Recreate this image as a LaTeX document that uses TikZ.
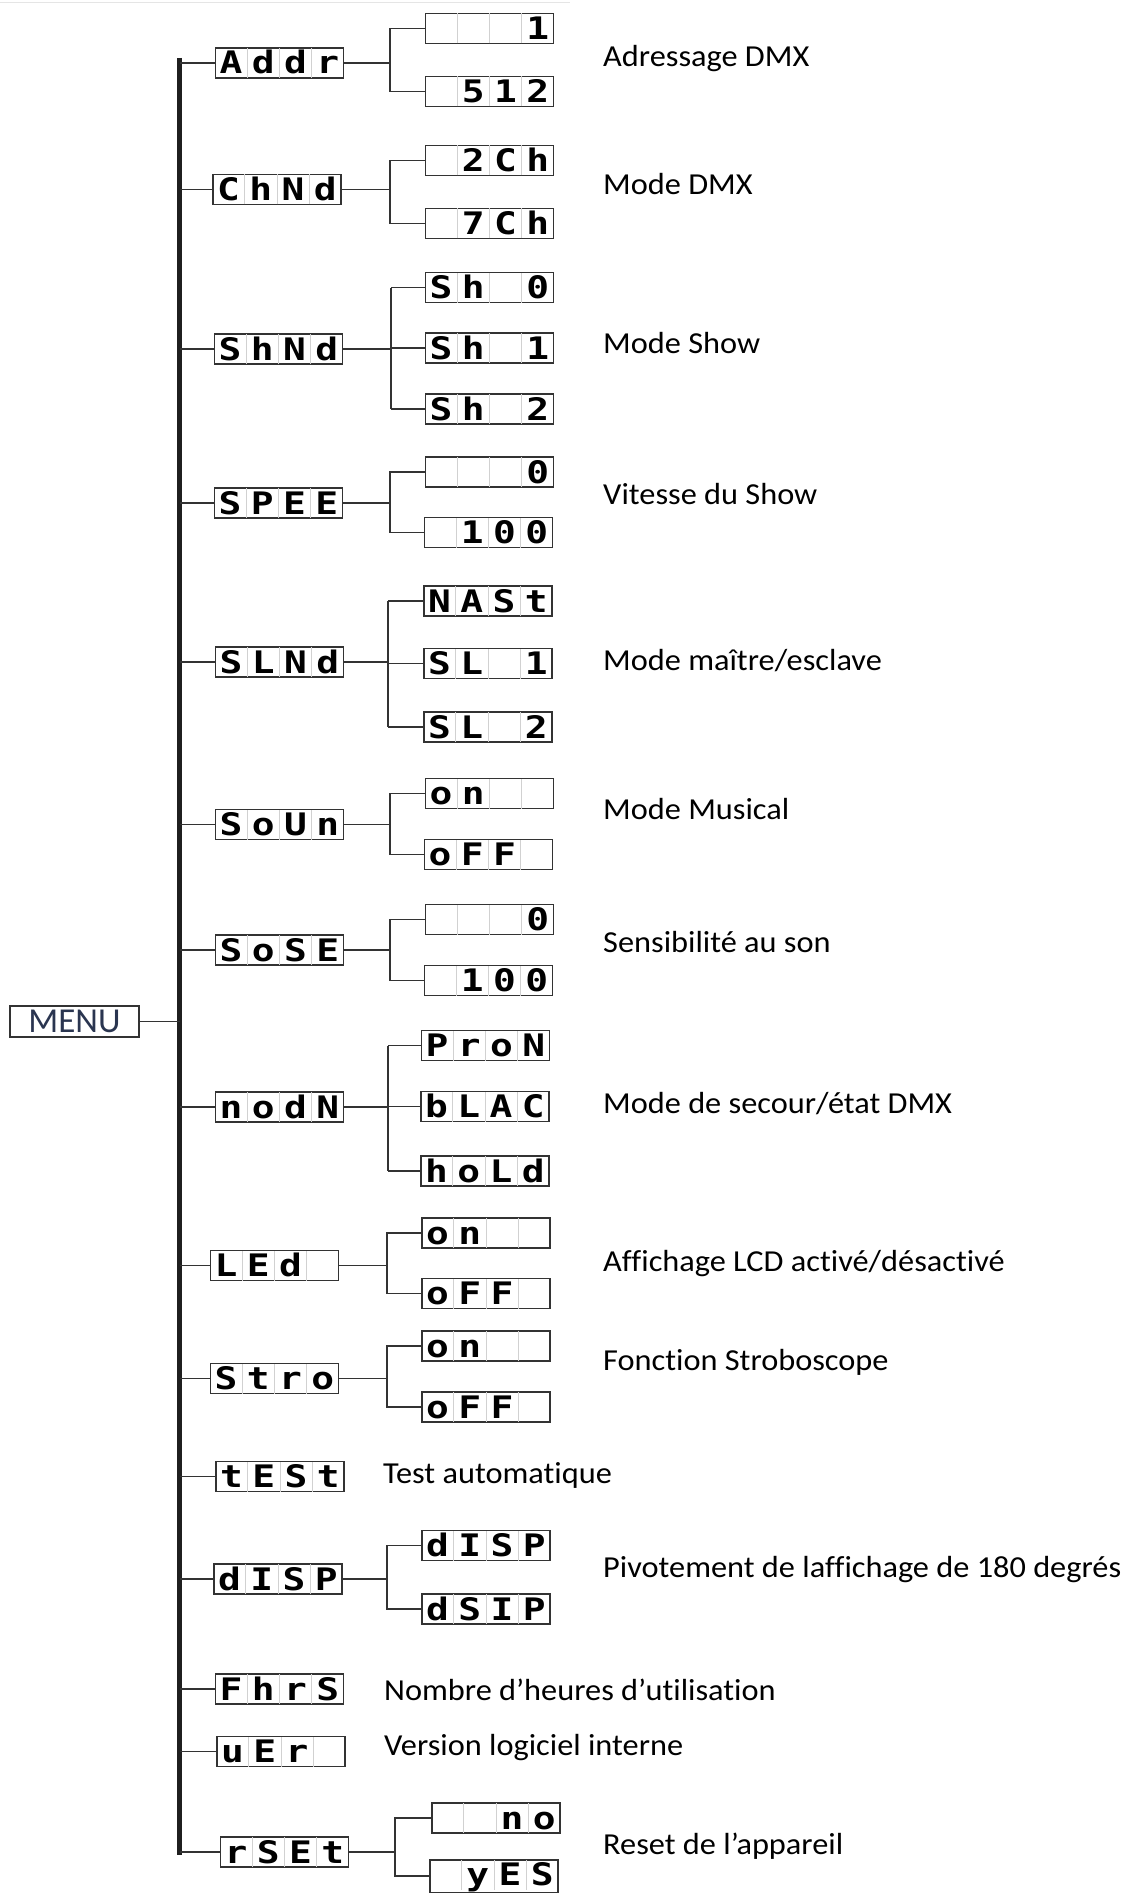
\documentclass[tikz,border=0pt]{standalone}
\usepackage{fontspec}
\setmainfont{Carlito}[Ligatures=NoCommon,FakeStretch=1.06]
\newfontfamily\menufont{Carlito}
\newfontfamily\lcdfont[FakeStretch=1.22]{DejaVu Sans Mono}
\newcommand\lcdcell[1]{\makebox[31.25pt]{\vrule width 0pt height 26pt depth 4pt #1}}
\newcommand\lcdsep{{\color{black!18}\vrule width 1pt height 26pt depth 4pt}}
\newcommand\lcdtext[4]{\lcdcell{#1}\lcdsep\lcdcell{#2}\lcdsep\lcdcell{#3}\lcdsep\lcdcell{#4}}
\definecolor{ln}{HTML}{333333}
\definecolor{menutxt}{HTML}{2A3550}
\begin{document}
\begin{tikzpicture}[x=1pt,y=-1pt,
  lcd/.style={draw=ln,line width=1.4pt,inner sep=0pt,outer sep=0pt,
    font=\lcdfont\bfseries\fontsize{31}{31}\selectfont},
  conn/.style={draw=ln,line width=1.4pt},
  lab/.style={anchor=base west,inner sep=0pt,font=\fontsize{30.5}{31}\selectfont}]
\useasboundingbox (0,0) rectangle (1122,1894);
\draw[black!10,line width=1pt] (0,3) -- (570,3);

% main bar
\coordinate (bartop) at (179.5,59);
\coordinate (barbot) at (179.5,1852);
\draw[draw=black!88,line width=5pt] (179.5,58) -- (179.5,1854.5);

% MENU
\node[draw=ln,line width=1.4pt,minimum width=129pt,minimum height=31pt,inner sep=0pt,
  text=menutxt,font=\menufont\fontsize{35}{35}\selectfont] (menu) at (74.5,1021.5) {MENU};
\draw[conn] (menu.east) -- (menu.east -| bartop);

% level 1
\node[lcd] (addr) at (279.5,63)    {\lcdtext{A}{d}{d}{r}};
\node[lcd] (chnd) at (277,189.5)   {\lcdtext{C}{h}{N}{d}};
\node[lcd] (shnd) at (278.5,349)   {\lcdtext{S}{h}{N}{d}};
\node[lcd] (spee) at (278.5,503)   {\lcdtext{S}{P}{E}{E}};
\node[lcd] (slnd) at (279.5,662)   {\lcdtext{S}{L}{N}{d}};
\node[lcd] (soun) at (279.5,824.5) {\lcdtext{S}{o}{U}{n}};
\node[lcd] (sose) at (279.5,950)   {\lcdtext{S}{o}{S}{E}};
\node[lcd] (nodn) at (279.5,1107)  {\lcdtext{n}{o}{d}{N}};
\node[lcd] (led)  at (274.5,1265.5){\lcdtext{L}{E}{d}{}};
\node[lcd] (stro) at (274.5,1378.5){\lcdtext{S}{t}{r}{o}};
\node[lcd] (test) at (280,1476.5)  {\lcdtext{t}{E}{S}{t}};
\node[lcd] (disp) at (278,1579)    {\lcdtext{d}{I}{S}{P}};
\node[lcd] (fhrs) at (279.5,1689)  {\lcdtext{F}{h}{r}{S}};
\node[lcd] (ver)  at (281,1751.5)  {\lcdtext{u}{E}{r}{}};
\node[lcd] (rset) at (284.5,1852)  {\lcdtext{r}{S}{E}{t}};

\foreach \n in {addr,chnd,shnd,spee,slnd,soun,sose,nodn,led,stro,test,disp,fhrs,ver}
  \draw[conn] (\n.west) -- (\n.west -| bartop);
\draw[conn] (rset.west) -- (rset.west -| barbot);

% level 2
\node[lcd] (a1) at (489.5,28.5)  {\lcdtext{}{}{}{1}};
\node[lcd] (a2) at (489.5,91.5)  {\lcdtext{}{5}{1}{2}};
\node[lcd] (c1) at (489.5,160.5) {\lcdtext{}{2}{C}{h}};
\node[lcd] (c2) at (489.5,223.5) {\lcdtext{}{7}{C}{h}};
\node[lcd] (s0) at (489.5,287.5) {\lcdtext{S}{h}{}{0}};
\node[lcd] (s1) at (489.5,348)   {\lcdtext{S}{h}{}{1}};
\node[lcd] (s2) at (489.5,409)   {\lcdtext{S}{h}{}{2}};
\node[lcd] (p1) at (489.5,472)   {\lcdtext{}{}{}{0}};
\node[lcd] (p2) at (488.5,532.5) {\lcdtext{}{1}{0}{0}};
\node[lcd] (m1) at (488,601)     {\lcdtext{N}{A}{S}{t}};
\node[lcd] (m2) at (488,663.5)   {\lcdtext{S}{L}{}{1}};
\node[lcd] (m3) at (488,727)     {\lcdtext{S}{L}{}{2}};
\node[lcd] (u1) at (489.5,793.5) {\lcdtext{o}{n}{}{}};
\node[lcd] (u2) at (488.5,854.5) {\lcdtext{o}{F}{F}{}};
\node[lcd] (e1) at (489.5,919.5) {\lcdtext{}{}{}{0}};
\node[lcd] (e2) at (488.5,980.5) {\lcdtext{}{1}{0}{0}};
\node[lcd] (n1) at (485.5,1045.5){\lcdtext{P}{r}{o}{N}};
\node[lcd] (n2) at (485,1106.5)  {\lcdtext{b}{L}{A}{C}};
\node[lcd] (n3) at (485,1171)    {\lcdtext{h}{o}{L}{d}};
\node[lcd] (l1) at (486,1233)    {\lcdtext{o}{n}{}{}};
\node[lcd] (l2) at (486,1293.5)  {\lcdtext{o}{F}{F}{}};
\node[lcd] (t1) at (486,1346)    {\lcdtext{o}{n}{}{}};
\node[lcd] (t2) at (486,1407)    {\lcdtext{o}{F}{F}{}};
\node[lcd] (d1) at (486,1545.5)  {\lcdtext{d}{I}{S}{P}};
\node[lcd] (d2) at (486,1609)    {\lcdtext{d}{S}{I}{P}};
\node[lcd] (r1) at (496,1818)    {\lcdtext{}{}{n}{o}};
\node[lcd] (r2) at (494,1876)    {\lcdtext{}{y}{E}{S}};

% branches
\foreach \p/\x/\a/\b in {addr/390/a1/a2, chnd/390/c1/c2, spee/390/p1/p2,
    soun/390/u1/u2, sose/390/e1/e2, led/387/l1/l2, stro/387/t1/t2,
    disp/387/d1/d2, rset/395/r1/r2}{
  \coordinate (br) at (\x,0);
  \draw[conn] (\p.east) -- (\p.east -| br);
  \draw[conn] (\a.west) -- (\a.west -| br) -- (\b.west -| br) -- (\b.west);
}
\foreach \p/\x/\a/\b/\c in {shnd/391/s0/s1/s2, slnd/388/m1/m2/m3, nodn/388/n1/n2/n3}{
  \coordinate (br) at (\x,0);
  \draw[conn] (\p.east) -- (\p.east -| br);
  \draw[conn,line width=1.8pt] (\a.west -| br) -- (\c.west -| br);
  \draw[conn] (\a.west) -- (\a.west -| br);
  \draw[conn] (\c.west) -- (\c.west -| br);
  \draw[conn] (\b.west) -- (\b.west -| br);
}

% labels
\node[lab] (L1)  at (603,67)   {Adressage DMX};
\node[lab] (L2)  at (603,195)  {Mode DMX};
\node[lab] (L3)  at (603,353)  {Mode Show};
\node[lab] (L4)  at (603,504)  {Vitesse du Show};
\node[lab] (L5)  at (603,670)  {Mode maître/esclave};
\node[lab] (L6)  at (603,819)  {Mode Musical};
\node[lab] (L7)  at (603,952)  {Sensibilité au son};
\node[lab] (L8)  at (603,1113) {Mode de secour/état DMX};
\node[lab] (L9)  at (603,1271) {Affichage LCD activé/désactivé};
\node[lab] (L10) at (603,1370) {Fonction Stroboscope};
\node[lab] (L11) at (383,1483) {Test automatique};
\node[lab] (L12) at (603,1577) {Pivotement de laffichage de 180 degrés};
\node[lab] (L13) at (384,1700) {Nombre d’heures d’utilisation};
\node[lab] (L14) at (384,1755) {Version logiciel interne};
\node[lab] (L15) at (603,1854) {Reset de l’appareil};
\end{tikzpicture}
\end{document}
